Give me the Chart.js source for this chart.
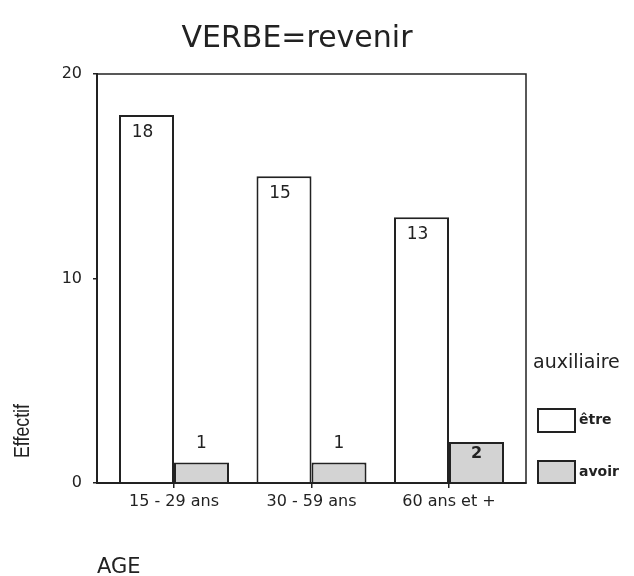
<!DOCTYPE html>
<html>
<head>
<meta charset="utf-8">
<script src="https://cdn.jsdelivr.net/npm/chart.js@4"></script>
<style>
  html, body { margin: 0; padding: 0; background: #fff; }
  #wrap { width: 634px; height: 576px; }
</style>
</head>
<body>
<div id="wrap"><canvas id="chart" width="634" height="576"></canvas></div>
<script>
// données
const categories = ['15 - 29 ans', '30 - 59 ans', '60 ans et +'];
const seriesNames = ['être', 'avoir'];
const etreValues = [18, 15, 13];
const avoirValues = [1, 1, 2];
const yTicks = [0, 10, 20];

const chartTitle = 'VERBE=revenir';
const xTitle = 'AGE';
const yTitle = 'Effectif';
const legendTitle = 'auxiliaire';

const ink = '#222';
const grayFill = '#d3d3d3';
const font = '"DejaVu Sans", sans-serif';

// position des catégories sur un axe linéaire (1, 2, 3)
const xMin = 0.44, xMax = 3.56;

function toPoints(values) {
    return values.map((v, i) => ({ x: i + 1, y: v }));
}

// cadre, titres, légende et étiquettes des barres
const decorPlugin = {
    id: 'decor',
    afterDatasetsDraw(chart) {
        const ctx = chart.ctx;
        const a = chart.chartArea;
        ctx.save();

        // cadre complet
        ctx.strokeStyle = ink;
        ctx.lineWidth = 1.5;
        ctx.strokeRect(a.left, a.top, a.right - a.left, a.bottom - a.top);

        // étiquettes des barres
        ctx.fillStyle = ink;
        ctx.textAlign = 'center';
        ctx.textBaseline = 'middle';
        chart.data.datasets.forEach((ds, di) => {
            const meta = chart.getDatasetMeta(di);
            meta.data.forEach((bar, i) => {
                const v = ds.data[i].y;
                const h = bar.base - bar.y;
                if (di === 0) {
                    ctx.font = '17px ' + font;
                    ctx.fillText(String(v), bar.x - 4, bar.y + 17.5);
                } else if (h < 30) {
                    ctx.font = '17px ' + font;
                    ctx.fillText(String(v), bar.x, bar.y - 19);
                } else {
                    ctx.font = 'bold 16px ' + font;
                    ctx.fillText(String(v), bar.x, bar.y + 12);
                }
            });
        });

        // titre
        ctx.font = '30px ' + font;
        ctx.textBaseline = 'alphabetic';
        ctx.fillText(chartTitle, 297, 47);

        // titre axe x
        ctx.textAlign = 'left';
        ctx.font = '21px ' + font;
        ctx.fillText(xTitle, 97, 573);

        // titre axe y (condensé)
        ctx.save();
        ctx.translate(23, 431);
        ctx.rotate(-Math.PI / 2);
        ctx.textAlign = 'center';
        ctx.textBaseline = 'middle';
        ctx.font = '22px "Liberation Sans", sans-serif';
        ctx.fillText(yTitle, 0, 0, 54);
        ctx.restore();

        // légende
        ctx.font = '19px ' + font;
        ctx.fillText(legendTitle, 533, 368);
        const boxes = [
            { y: 409, h: 23, fill: '#fff' },
            { y: 461, h: 22, fill: grayFill }
        ];
        boxes.forEach((b, i) => {
            ctx.fillStyle = b.fill;
            ctx.fillRect(538, b.y, 37, b.h);
            ctx.strokeStyle = ink;
            ctx.lineWidth = 2;
            ctx.strokeRect(538, b.y, 37, b.h);
            ctx.fillStyle = ink;
            ctx.font = 'bold 14px ' + font;
            ctx.textBaseline = 'middle';
            ctx.fillText(seriesNames[i], 579, b.y + b.h / 2);
        });

        ctx.restore();
    }
};

new Chart(document.getElementById('chart'), {
    type: 'bar',
    data: {
        datasets: [
            {
                label: seriesNames[0],
                data: toPoints(etreValues),
                backgroundColor: '#fff',
                borderColor: ink,
                borderWidth: 2,
                categoryPercentage: 0.8,
                barPercentage: 1.0
            },
            {
                label: seriesNames[1],
                data: toPoints(avoirValues),
                backgroundColor: grayFill,
                borderColor: ink,
                borderWidth: 2,
                categoryPercentage: 0.8,
                barPercentage: 1.0
            }
        ]
    },
    options: {
        responsive: false,
        animation: false,
        layout: { padding: { left: 0, top: 74, right: 108, bottom: 63 } },
        plugins: {
            legend: { display: false },
            title: { display: false },
            tooltip: { enabled: false }
        },
        scales: {
            x: {
                type: 'linear',
                min: xMin,
                max: xMax,
                offset: false,
                grid: { display: true, drawOnChartArea: false, offset: false, tickLength: 5, color: ink, lineWidth: 1.5 },
                border: { display: true, color: ink, width: 2 },
                ticks: {
                    stepSize: 1,
                    padding: 4,
                    color: ink,
                    font: { family: font, size: 16 },
                    callback: (v) => categories[v - 1]
                },
                afterBuildTicks: (scale) => {
                    scale.ticks = scale.ticks.filter(t => Number.isInteger(t.value) && t.value >= 1 && t.value <= categories.length);
                },
                afterFit: (scale) => { scale.height = 30; }
            },
            y: {
                min: 0,
                max: 20,
                grid: { display: true, drawOnChartArea: false, tickLength: 4, color: ink, lineWidth: 1.5 },
                border: { display: true, color: ink, width: 2 },
                ticks: {
                    stepSize: 10,
                    padding: 11,
                    color: ink,
                    font: { family: font, size: 16 }
                },
                afterBuildTicks: (scale) => {
                    scale.ticks = yTicks.map(v => ({ value: v }));
                },
                afterFit: (scale) => { scale.width = 97; }
            }
        }
    },
    plugins: [decorPlugin]
});
</script>
</body>
</html>
